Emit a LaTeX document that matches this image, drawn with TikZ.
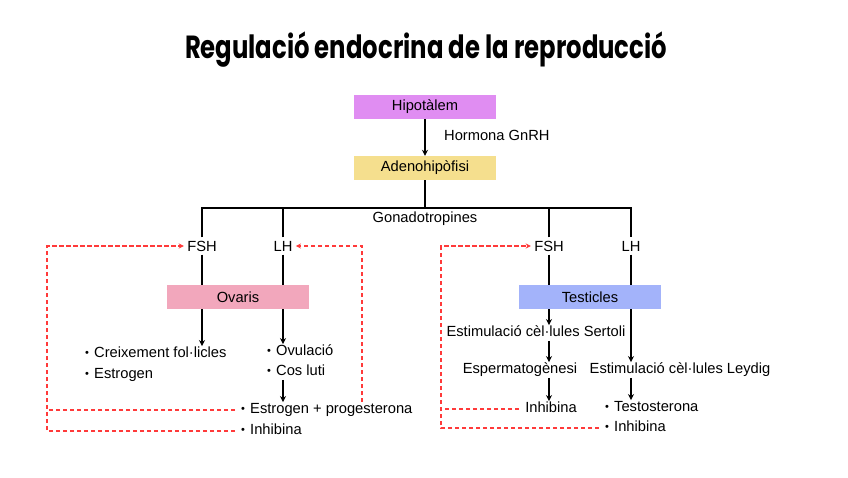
\documentclass[tikz,border=0pt]{standalone}
\usepackage{fontspec}
\setmainfont{Liberation Sans}
\newfontfamily\titlefont{Poppins}
\usepackage{xcolor}
\usetikzlibrary{positioning,calc,arrows.meta}
\definecolor{hipocol}{RGB}{224,141,242}
\definecolor{adenocol}{RGB}{245,223,142}
\definecolor{ovarcol}{RGB}{242,167,188}
\definecolor{testcol}{RGB}{163,179,250}
\definecolor{feedcol}{RGB}{255,58,58}
\newcommand{\bul}{\makebox[9pt][l]{\raisebox{0.15ex}{\scalebox{0.75}{\textbullet}}}}

\begin{document}
\begin{tikzpicture}[x=1pt,y=-1pt,font=\fontsize{14.7}{17}\selectfont,
    organ/.style={minimum width=142pt,minimum height=24pt,inner sep=0pt},
    item/.style={anchor=west,inner sep=1pt,text height=10.5pt,text depth=3pt},
    txt/.style={inner sep=1pt,text height=10.5pt,text depth=3pt},
    link/.style={line width=1.6pt},
    arr/.style={link,-{Stealth[length=6pt,width=6pt]}},
    feedback/.style={feedcol,line width=1.5pt,dash pattern=on 4.5pt off 2.5pt},
    feedarr/.style={feedback,-{Stealth[length=5pt,width=5pt]}}]
    \useasboundingbox (0,0) rectangle (848,477);
    \node[font=\titlefont\bfseries\fontsize{32}{36}\selectfont] (title) at (426,50) {\scalebox{0.76}[1]{Regulació endocrina de la reproducció}};

    \node[organ,fill=hipocol] (hipo) at (425,107) {Hipotàlem};
    \node[organ,fill=adenocol] (adeno) at (425,168) {Adenohipòfisi};
    \draw[arr] (hipo) -- (adeno) node[pos=0.45,right=15pt] (gnrh) {Hormona GnRH};
    \coordinate (split) at (425,208);
    \draw[link] (adeno) -- (split);
    \node[below=0pt of split] (gona) {Gonadotropines};

    \node (fshL) at (202,246) {FSH}; \node (lhL) at (283,246) {LH};
    \node (fshR) at (549,246) {FSH}; \node (lhR) at (631,246) {LH};
    \draw[link] (fshL.north) |- (split) -| (lhR.north);
    \draw[link] (lhL.north) -- (lhL.north |- split);
    \draw[link] (fshR.north) -- (fshR.north |- split);

    % ovaris
    \node[organ,fill=ovarcol] (ovaris) at (238,297) {Ovaris};
    \draw[link] (fshL) -- (fshL |- ovaris.north);
    \draw[link] (lhL) -- (lhL |- ovaris.north);
    \node[item] (creix) at (84,354) {\bul Creixement fol·licles};
    \node[item] (estro) at (84,375) {\bul Estrogen};
    \node[item] (ovul) at (266,352) {\bul Ovulació};
    \node[item] (luti) at (266,372) {\bul Cos luti};
    \node[item] (eprog) at (240,410) {\bul Estrogen + progesterona};
    \node[item] (inhL) at (240,431) {\bul Inhibina};
    \draw[arr] (fshL |- ovaris.south) -- (fshL |- creix.north);
    \draw[arr] (lhL |- ovaris.south) -- (lhL |- ovul.north);
    \draw[arr] (lhL |- luti.south) -- (lhL |- eprog.north);
    \coordinate (loopL) at (47,0); \coordinate (loopM) at (362,0);
    \draw[feedarr] ([xshift=-5pt]inhL.west) -- (inhL.west -| loopL) |- (fshL.west);
    \draw[feedback] ([xshift=-5pt]eprog.west) -- (eprog.west -| loopL);
    \draw[feedarr] (eprog.north -| loopM) |- (lhL.east);

    % testicles
    \node[organ,fill=testcol] (testi) at (590,297) {Testicles};
    \draw[link] (fshR) -- (fshR |- testi.north);
    \draw[link] (lhR) -- (lhR |- testi.north);
    \node[txt] (serto) at (536,333) {Estimulació cèl·lules Sertoli};
    \node[txt] (esper) at (520,370) {Espermatogènesi};
    \node[txt] (inhR) at (551,409) {Inhibina};
    \node[txt] (leydig) at (680,370) {Estimulació cèl·lules Leydig};
    \node[item] (testo) at (604,408) {\bul Testosterona};
    \node[item] (inhR2) at (604,428) {\bul Inhibina};
    \draw[arr] (fshR |- testi.south) -- (fshR |- serto.north);
    \draw[arr] (fshR |- serto.south) -- (fshR |- esper.north);
    \draw[arr] (fshR |- esper.south) -- (fshR |- inhR.north);
    \draw[arr] (lhR |- testi.south) -- (lhR |- leydig.north);
    \draw[arr] (lhR |- leydig.south) -- (lhR |- testo.north);
    \coordinate (loopR) at (441,0);
    \draw[feedarr] ([xshift=-5pt]inhR2.west) -- (inhR2.west -| loopR) |- (fshR.west);
    \draw[feedback] ([xshift=-5pt]inhR.west) -- (inhR.west -| loopR);
\end{tikzpicture}
\end{document}
